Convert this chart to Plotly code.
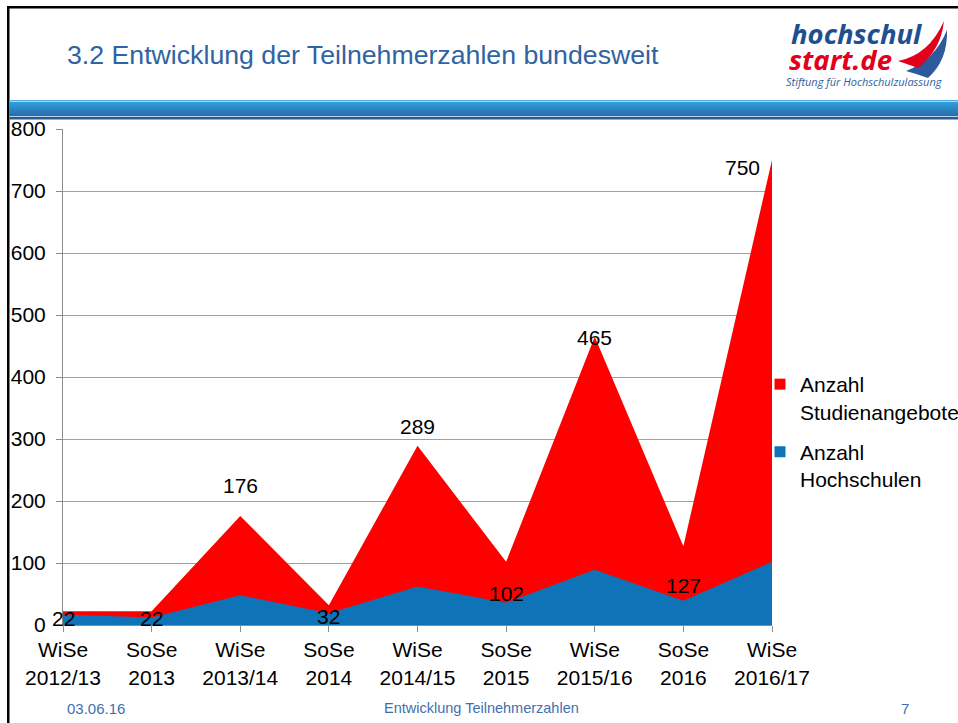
import plotly.graph_objects as go

# ---------------- data ----------------
categories = ["WiSe<br>2012/13", "SoSe<br>2013", "WiSe<br>2013/14", "SoSe<br>2014",
              "WiSe<br>2014/15", "SoSe<br>2015", "WiSe<br>2015/16", "SoSe<br>2016",
              "WiSe<br>2016/17"]
studienangebote = [22, 22, 176, 32, 289, 102, 465, 127, 750]
hochschulen = [17, 12, 48, 19, 62, 36, 89, 39, 102]
series_names = ["Anzahl<br>Studienangebote", "Anzahl<br>Hochschulen"]
y_ticks = [0, 100, 200, 300, 400, 500, 600, 700, 800]

# label offsets (px) as in the original slide
label_dx = [0, 0, 0, 0, 0, 0, 0, 0, -30]
label_dy = [-7, -7, 30, -11, 19, -32, -1, -39, -7]

RED = "#ff0000"
BLUE = "#0e74b7"
FONT = "Liberation Sans"

# plot area in pixels (for decoration placement only)
W_PX, H_PX = 958, 723
L, R, T, B = 63, 772, 129, 625


def px(x):
    return (x - L) / (R - L)


def py(y):
    return (B - y) / (B - T)


fig = go.Figure()

fig.add_trace(go.Scatter(x=categories, y=studienangebote, mode="none", fill="tozeroy",
                         fillcolor=RED, showlegend=False, hoverinfo="skip"))
fig.add_trace(go.Scatter(x=categories, y=hochschulen, mode="none", fill="tozeroy",
                         fillcolor=BLUE, showlegend=False, hoverinfo="skip"))
# legend entries (square symbols)
for k, (name, col) in enumerate(zip(series_names, [RED, BLUE])):
    fig.add_trace(go.Scatter(x=[None], y=[None], mode="markers", name=name,
                             legendgroup="g%d" % k,
                             marker=dict(symbol="square", size=11, color=col)))

annotations = []
# data labels
for i, (c, v) in enumerate(zip(categories, studienangebote)):
    annotations.append(dict(x=c, y=v, xref="x", yref="y", text=str(v), showarrow=False,
                            xshift=label_dx[i], yshift=label_dy[i],
                            font=dict(family=FONT, size=21, color="#000000")))

# title
annotations.append(dict(x=px(65), y=py(55), xref="paper", yref="paper", xanchor="left",
                        yanchor="middle", showarrow=False,
                        text="3.2 Entwicklung der Teilnehmerzahlen bundesweit",
                        font=dict(family=FONT, size=26.7, color="#2f63a3")))
# logo text
annotations.append(dict(x=px(789), y=py(34), xref="paper", yref="paper", xanchor="left",
                        yanchor="middle", showarrow=False, text="hochschul",
                        font=dict(family="Open Sans", size=27.5, color="#1f4f91",
                                  weight="bold", style="italic")))
annotations.append(dict(x=px(787), y=py(59), xref="paper", yref="paper", xanchor="left",
                        yanchor="middle", showarrow=False, text="start.de",
                        font=dict(family="Open Sans", size=27.5, color="#e2001a",
                                  weight="bold", style="italic")))
annotations.append(dict(x=px(784), y=py(81), xref="paper", yref="paper", xanchor="left",
                        yanchor="middle", showarrow=False,
                        text="Stiftung für Hochschulzulassung",
                        font=dict(family="Open Sans", size=11, color="#2f5f9f",
                                  style="italic")))
# footer
annotations.append(dict(x=px(65), y=py(708), xref="paper", yref="paper", xanchor="left",
                        yanchor="middle", showarrow=False, text="03.06.16",
                        font=dict(family=FONT, size=15, color="#3f6fb0")))
annotations.append(dict(x=px(481), y=py(708), xref="paper", yref="paper", xanchor="center",
                        yanchor="middle", showarrow=False, text="Entwicklung Teilnehmerzahlen",
                        font=dict(family=FONT, size=14.5, color="#3f6fb0")))
annotations.append(dict(x=px(905), y=py(708), xref="paper", yref="paper", xanchor="center",
                        yanchor="middle", showarrow=False, text="7",
                        font=dict(family=FONT, size=15, color="#3f6fb0")))

shapes = []
# black frame lines
shapes.append(dict(type="rect", xref="paper", yref="paper", x0=px(7), x1=px(W_PX + 5),
                   y0=py(8.5), y1=py(6), fillcolor="#000000", line=dict(width=0), layer="above"))
shapes.append(dict(type="rect", xref="paper", yref="paper", x0=px(7), x1=px(9.5),
                   y0=py(H_PX + 5), y1=py(6), fillcolor="#000000", line=dict(width=0),
                   layer="above"))


def hexmix(a, b, t):
    a = [int(a[i:i + 2], 16) for i in (1, 3, 5)]
    b = [int(b[i:i + 2], 16) for i in (1, 3, 5)]
    return "#%02x%02x%02x" % tuple(round(a[k] + (b[k] - a[k]) * t) for k in range(3))


# blue band under title
shapes.append(dict(type="rect", xref="paper", yref="paper", x0=px(9.5), x1=px(W_PX + 5),
                   y0=py(101.5), y1=py(100), fillcolor="#57b0e2", line=dict(width=0)))
n = 14
for k in range(n):
    shapes.append(dict(type="rect", xref="paper", yref="paper", x0=px(9.5), x1=px(W_PX + 5),
                       y0=py(102 + k + 1), y1=py(102 + k),
                       fillcolor=hexmix("#2f9fda", "#2a6cab", k / (n - 1)),
                       line=dict(width=0)))
shapes.append(dict(type="rect", xref="paper", yref="paper", x0=px(9.5), x1=px(W_PX + 5),
                   y0=py(117), y1=py(116), fillcolor="#b9d3ec", line=dict(width=0)))
shapes.append(dict(type="rect", xref="paper", yref="paper", x0=px(9.5), x1=px(W_PX + 5),
                   y0=py(119.5), y1=py(117), fillcolor="#2c5a90", line=dict(width=0)))


def path(points_and_cmds):
    out = []
    for item in points_and_cmds:
        if isinstance(item, str):
            out.append(item)
        else:
            out.append("%.5f,%.5f" % (px(item[0]), py(item[1])))
    return " ".join(out)


# logo swooshes
shapes.append(dict(type="path", xref="paper", yref="paper", fillcolor="#2c5a9a",
                   line=dict(width=0),
                   path=path(["M", (906, 71), "Q", (935, 60), (947, 30), "Q", (948, 60),
                              (928, 78), "Q", (917, 74), (906, 71), "Z"])))
shapes.append(dict(type="path", xref="paper", yref="paper", fillcolor="#e2001a",
                   line=dict(width=0),
                   path=path(["M", (898, 61), "Q", (929, 55), (944, 21), "Q", (941, 50),
                              (918, 68), "Q", (907, 64), (898, 61), "Z"])))

fig.update_layout(
    width=W_PX, height=H_PX,
    margin=dict(l=L, r=W_PX - R, t=T, b=H_PX - B, autoexpand=False),
    paper_bgcolor="#ffffff", plot_bgcolor="#ffffff",
    font=dict(family=FONT, size=21, color="#000000"),
    showlegend=True,
    legend=dict(x=px(760), y=py(364), xanchor="left", yanchor="top",
                font=dict(family=FONT, size=21, color="#000000"),
                valign="top", bgcolor="rgba(0,0,0,0)", traceorder="grouped",
                itemwidth=30, tracegroupgap=10),
    annotations=annotations,
    shapes=shapes,
    xaxis=dict(type="category", range=[0, len(categories) - 1], showgrid=False,
               showline=True, linecolor="#8c8c8c", linewidth=1,
               ticks="outside", ticklen=6, tickcolor="#8c8c8c",
               tickfont=dict(family=FONT, size=21, color="#000000"), zeroline=False),
    yaxis=dict(range=[0, 800], tickvals=y_ticks, showgrid=True, gridcolor="#a0a0a0",
               gridwidth=1, showline=True, linecolor="#8c8c8c", linewidth=1,
               ticks="outside", ticklen=6, tickcolor="#8c8c8c", zeroline=False,
               ticklabelstandoff=6,
               tickfont=dict(family=FONT, size=21, color="#000000")),
)

fig.write_html("out.html",
               config={"displayModeBar": False},
               post_script="document.body.style.margin='0px';"
                           "document.body.style.overflow='hidden';")
